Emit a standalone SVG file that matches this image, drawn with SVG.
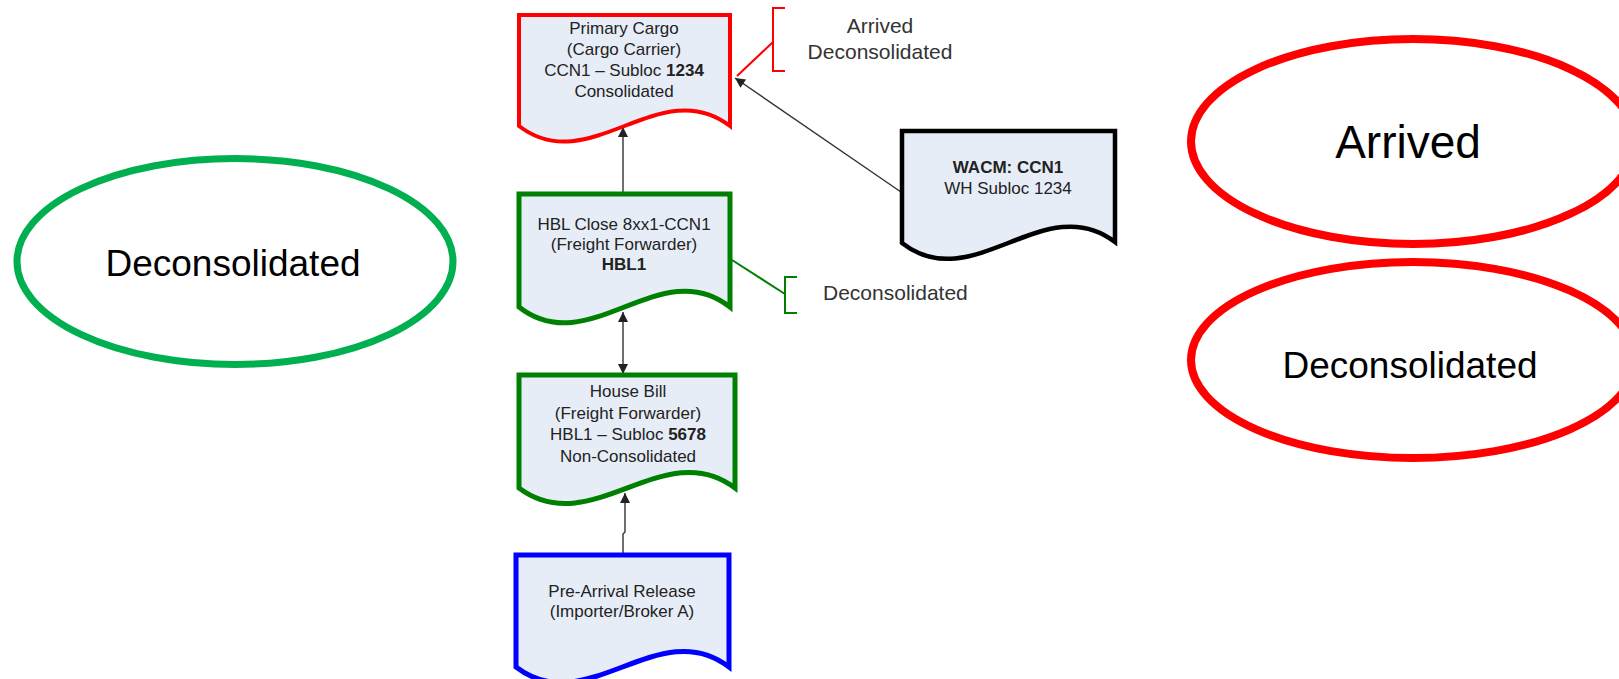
<svg xmlns="http://www.w3.org/2000/svg" width="1619" height="679" viewBox="0 0 1619 679">
<style>
.doc{fill:#e7edf7;stroke-linejoin:miter}
.t{font-family:"Liberation Sans",Arial,sans-serif;font-size:17px;fill:#222;text-anchor:middle}
.b{font-weight:bold}
.lbl{font-family:"Liberation Sans",Arial,sans-serif;font-size:21px;fill:#333}
.big{font-family:"Liberation Sans",Arial,sans-serif;fill:#000;text-anchor:middle}
.con{stroke:#333;stroke-width:1.4;fill:none}
</style>
<defs>
<marker id="ah" viewBox="0 0 10 10" refX="10" refY="5" markerWidth="13" markerHeight="10" markerUnits="userSpaceOnUse" orient="auto-start-reverse">
<path d="M0,0 L10,5 L0,10 Z" fill="#222"/>
</marker>
</defs>
<rect width="1619" height="679" fill="#fff"/>

<g id="connectors">
<line class="con" x1="623" y1="194" x2="623" y2="127" marker-end="url(#ah)"/>
<line class="con" x1="623" y1="312" x2="623" y2="374" marker-start="url(#ah)" marker-end="url(#ah)"/>
<polyline class="con" points="623,555 623,534 625,532 625,493" marker-end="url(#ah)"/>
<line class="con" x1="901" y1="192" x2="735" y2="78" marker-end="url(#ah)"/>
<polyline points="737,76 773,42" fill="none" stroke="#ff0000" stroke-width="2"/>
<polyline points="785,8 773,8 773,71 785,71" fill="none" stroke="#ff0000" stroke-width="2"/>
<polyline points="732,260 785,294" fill="none" stroke="#008000" stroke-width="2"/>
<polyline points="797,277 785,277 785,313 797,313" fill="none" stroke="#008000" stroke-width="2"/>
</g>

<g id="primary-cargo">
<path class="doc" d="M519,15 H730 V126 C660,72 589,180 519,126 Z" stroke="#ff0000" stroke-width="4"/>
<text class="t" x="624" y="34">Primary Cargo</text>
<text class="t" x="624" y="55">(Cargo Carrier)</text>
<text class="t" x="624" y="76">CCN1 – Subloc <tspan class="b">1234</tspan></text>
<text class="t" x="624" y="97">Consolidated</text>
</g>

<g id="primary-label">
<text class="lbl" x="880" y="33" text-anchor="middle">Arrived</text>
<text class="lbl" x="880" y="59" text-anchor="middle">Deconsolidated</text>
</g>

<g id="wacm">
<path class="doc" d="M902,131 H1115 V242 C1045,188 972,298 902,243 Z" stroke="#000" stroke-width="4.5"/>
<text class="t b" x="1008" y="173">WACM: CCN1</text>
<text class="t" x="1008" y="194">WH Subloc 1234</text>
</g>

<g id="hbl-close">
<path class="doc" d="M519,194 H730 V307 C660,252 589,362 519,307 Z" stroke="#008000" stroke-width="5"/>
<text class="t" x="624" y="230">HBL Close 8xx1-CCN1</text>
<text class="t" x="624" y="250">(Freight Forwarder)</text>
<text class="t b" x="624" y="270">HBL1</text>
</g>

<g id="hbl-label">
<text class="lbl" x="823" y="300">Deconsolidated</text>
</g>

<g id="house-bill">
<path class="doc" d="M519,375 H735 V488 C664,434 591,542 519,488 Z" stroke="#008000" stroke-width="5"/>
<text class="t" x="628" y="397">House Bill</text>
<text class="t" x="628" y="419">(Freight Forwarder)</text>
<text class="t" x="628" y="440">HBL1 – Subloc <tspan class="b">5678</tspan></text>
<text class="t" x="628" y="462">Non-Consolidated</text>
</g>

<g id="pre-arrival">
<path class="doc" d="M516,555 H729 V667 C659,613 586,721 516,667 Z" stroke="#0000ff" stroke-width="5"/>
<text class="t" x="622" y="597">Pre-Arrival Release</text>
<text class="t" x="622" y="617">(Importer/Broker A)</text>
</g>

<g id="ellipse-green">
<ellipse cx="235" cy="261.5" rx="218" ry="103" fill="none" stroke="#00b050" stroke-width="7"/>
<text class="big" x="233" y="276" font-size="37">Deconsolidated</text>
</g>

<g id="ellipse-arrived">
<ellipse cx="1413" cy="141.5" rx="222" ry="102.5" fill="none" stroke="#ff0000" stroke-width="8"/>
<text class="big" x="1408" y="158" font-size="46">Arrived</text>
</g>

<g id="ellipse-deconsolidated">
<ellipse cx="1413" cy="360" rx="222" ry="98" fill="none" stroke="#ff0000" stroke-width="8"/>
<text class="big" x="1410" y="378" font-size="37">Deconsolidated</text>
</g>
</svg>
